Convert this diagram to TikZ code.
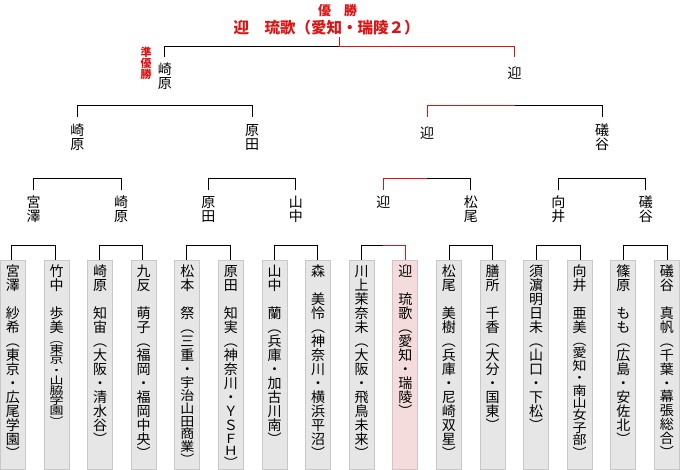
\documentclass[tikz,border=0pt]{standalone}
\usepackage{fontspec}
\usepackage{graphicx}
\newfontfamily\jp{Noto Sans CJK JP}
\definecolor{winred}{RGB}{220,20,20}
\definecolor{boxfill}{RGB}{230,230,230}
\definecolor{boxline}{RGB}{200,200,200}
\definecolor{pinkfill}{RGB}{245,220,220}
\definecolor{pinkline}{RGB}{215,195,195}
\newcommand\vcell[3]{\hbox to 1em{\hss\vrule width 0pt height .88\dimexpr #1pt\relax depth .12\dimexpr #1pt\relax\scalebox{1}[#2]{#3}\hss}}
\ExplSyntaxOn
\NewDocumentCommand\vseg{mmm}{\tl_map_inline:nn{#3}{\vcell{#1}{#2}{##1}}}
\ExplSyntaxOff
\newcommand\vtxt[1]{\vbox{\offinterlineskip #1}}
\begin{document}
\begin{tikzpicture}[x=1pt,y=-1pt,
  every node/.style={inner sep=0pt, outer sep=0pt, font=\jp\fontsize{14}{14}\selectfont},
  entrybox/.style={draw=boxline, fill=boxfill, line width=1pt, minimum width=25pt, minimum height=209pt, anchor=north},
  winbox/.style={entrybox, draw=pinkline, fill=pinkfill},
  txt/.style={anchor=north},
  bracket/.style={line width=1pt, draw=black},
  winline/.style={line width=1pt, draw=winred},
  redtxt/.style={text=winred}
]
\useasboundingbox (0,0) rectangle (680,470);

% title
\node[anchor=base, redtxt, font=\jp\bfseries\fontsize{13}{13}\selectfont] (champ) at (337.5,16) {優　勝};
\node[anchor=base, redtxt, font=\jp\bfseries\fontsize{15.5}{15.5}\selectfont] (champname) at (326.5,34) {迎　琉歌（愛知・瑞陵２）};
\node[txt, redtxt, font=\jp\bfseries\fontsize{11}{11}\selectfont] (runner) at (146,46.5) {\vtxt{\vseg{11}{1}{準優勝}}};

% entry boxes
\node[entrybox] (b1) at (12.9,260.5) {};
\node[entrybox] (b2) at (56.5,260.5) {};
\node[entrybox] (b3) at (100.1,260.5) {};
\node[entrybox] (b4) at (143.7,260.5) {};
\node[entrybox] (b5) at (187.3,260.5) {};
\node[entrybox] (b6) at (230.9,260.5) {};
\node[entrybox] (b7) at (274.5,260.5) {};
\node[entrybox] (b8) at (318.1,260.5) {};
\node[entrybox] (b9) at (361.7,260.5) {};
\node[winbox] (b10) at (405.3,260.5) {};
\node[entrybox] (b11) at (448.9,260.5) {};
\node[entrybox] (b12) at (492.5,260.5) {};
\node[entrybox] (b13) at (536.1,260.5) {};
\node[entrybox] (b14) at (579.7,260.5) {};
\node[entrybox] (b15) at (623.3,260.5) {};
\node[entrybox] (b16) at (666.9,260.5) {};

% entry texts
\node[txt] (t1) at (12.9,264.5) {\vtxt{\vseg{14}{1}{宮澤　紗希︵東京・広尾学園︶}}};
\node[txt] (t2) at (56.5,264.5) {\vtxt{\vseg{14}{1}{竹中　歩美}\vseg{10.2}{0.75}{︵東京・山脇学園︶}}};
\node[txt] (t3) at (100.1,264.5) {\vtxt{\vseg{14}{1}{崎原　知宙︵大阪・清水谷︶}}};
\node[txt] (t4) at (143.7,264.5) {\vtxt{\vseg{14}{1}{九反　萌子︵福岡・福岡中央︶}}};
\node[txt] (t5) at (187.3,264.5) {\vtxt{\vseg{14}{1}{松本　祭︵三重・}\vseg{12.8}{0.92}{宇治山田商業︶}}};
\node[txt] (t6) at (230.9,264.5) {\vtxt{\vseg{14}{1}{原田　知実︵神奈川・ＹＳ}\vseg{12}{0.9}{ＦＨ︶}}};
\node[txt] (t7) at (274.5,264.5) {\vtxt{\vseg{14}{1}{山中　蘭︵兵庫・加古川南︶}}};
\node[txt] (t8) at (318.1,264.5) {\vtxt{\vseg{14}{1}{森　美怜︵神奈川・横浜平沼︶}}};
\node[txt] (t9) at (361.7,264.5) {\vtxt{\vseg{14}{1}{川上茉奈未︵大阪・飛鳥未来︶}}};
\node[txt] (t10) at (405.3,264.5) {\vtxt{\vseg{14}{1}{迎　琉歌︵愛知・瑞陵︶}}};
\node[txt] (t11) at (448.9,264.5) {\vtxt{\vseg{14}{1}{松尾　美樹︵兵庫・尼崎双星︶}}};
\node[txt] (t12) at (492.5,264.5) {\vtxt{\vseg{14}{1}{膳所　千香︵大分・国東︶}}};
\node[txt] (t13) at (536.1,264.5) {\vtxt{\vseg{14}{1}{須濵明日未︵山口・下松︶}}};
\node[txt] (t14) at (579.7,264.5) {\vtxt{\vseg{14}{1}{向井　亜美}\vseg{12.4}{0.89}{︵愛知・南山女子部︶}}};
\node[txt] (t15) at (623.3,264.5) {\vtxt{\vseg{14}{1}{篠原　もも︵広島・安佐北︶}}};
\node[txt] (t16) at (666.9,264.5) {\vtxt{\vseg{14}{1}{礒谷　真帆}\vseg{13.8}{0.97}{︵千葉・幕張総合︶}}};

% round winners
\node[txt] (w11) at (33.57,195.5) {\vtxt{\vseg{14}{1}{宮澤}}};
\node[txt] (w12) at (121.03,195.5) {\vtxt{\vseg{14}{1}{崎原}}};
\node[txt] (w13) at (208.49,195.5) {\vtxt{\vseg{14}{1}{原田}}};
\node[txt] (w14) at (295.95,195.5) {\vtxt{\vseg{14}{1}{山中}}};
\node[txt] (w15) at (383.41,195.5) {\vtxt{\vseg{14}{1}{迎}}};
\node[txt] (w16) at (470.87,195.5) {\vtxt{\vseg{14}{1}{松尾}}};
\node[txt] (w17) at (558.33,195.5) {\vtxt{\vseg{14}{1}{向井}}};
\node[txt] (w18) at (645.79,195.5) {\vtxt{\vseg{14}{1}{礒谷}}};

\node[txt] (w21) at (77.3,123) {\vtxt{\vseg{14}{1}{崎原}}};
\node[txt] (w22) at (252.22,123) {\vtxt{\vseg{14}{1}{原田}}};
\node[txt] (w23) at (427.14,126) {\vtxt{\vseg{14}{1}{迎}}};
\node[txt] (w24) at (602.06,123) {\vtxt{\vseg{14}{1}{礒谷}}};

\node[txt] (w31) at (164.76,62.5) {\vtxt{\vseg{14}{1}{崎原}}};
\node[txt] (w32) at (514.6,66) {\vtxt{\vseg{14}{1}{迎}}};

% connector anchor points
\foreach \i/\x in {1/11.7,2/55.43,3/99.16,4/142.89,5/186.62,6/230.35,7/274.08,8/317.81,9/361.54,10/405.27,11/449.0,12/492.73,13/536.46,14/580.19,15/623.92,16/667.65}
  \coordinate (d\i) at (\x,260);
\foreach \i/\x in {1/33.57,2/121.03,3/208.49,4/295.95,5/383.41,6/470.87,7/558.33,8/645.79}
  \coordinate (q\i) at (\x,190);
\foreach \i/\x in {1/77.3,2/252.22,3/427.14,4/602.06}
  \coordinate (s\i) at (\x,117);
\coordinate (f1) at (164.76,57);
\coordinate (f2) at (514.6,57);
\coordinate (fm) at (339.68,47);
\coordinate (ftop) at (339.68,37);
\coordinate (dm5) at (383.41,246);
\coordinate (qm3) at (427.14,179);
\coordinate (sm2) at (514.6,106);

% first round
\foreach \a/\b in {1/2,3/4,5/6,7/8,11/12,13/14,15/16}
  \draw[bracket] (d\a) -- ++(0,-14) -| (d\b);
\draw[bracket] (d9) |- (dm5);
\draw[winline] (dm5) -| (d10);
% second round
\foreach \a/\b in {1/2,3/4,7/8}
  \draw[bracket] (q\a) -- ++(0,-11) -| (q\b);
\draw[winline] (q5) |- (qm3);
\draw[bracket] (qm3) -| (q6);
% semifinals
\draw[bracket] (s1) -- ++(0,-11) -| (s2);
\draw[winline] (s3) |- (sm2);
\draw[bracket] (sm2) -| (s4);
% final
\draw[bracket] (f1) |- (fm);
\draw[winline] (ftop) -- (fm) -| (f2);
\end{tikzpicture}
\end{document}
